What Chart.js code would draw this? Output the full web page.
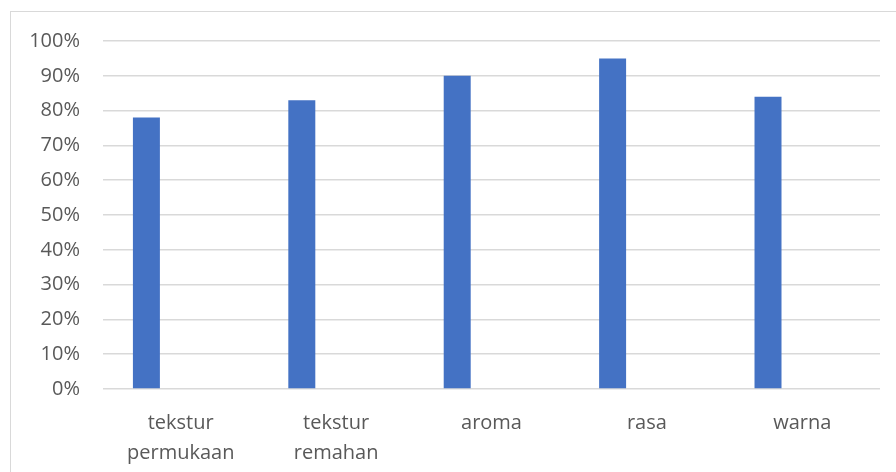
<!DOCTYPE html>
<html>
<head>
<meta charset="utf-8">
<script src="https://cdn.jsdelivr.net/npm/chart.js@4"></script>
<style>
  html, body { margin: 0; padding: 0; background: #fff; }
  #wrap { position: relative; width: 896px; height: 472px; overflow: hidden; }
  #frame { position: absolute; left: 10px; top: 11px; width: 900px; height: 470px; border: 1px solid #d9d9d9; box-sizing: border-box; }
  canvas { position: absolute; left: 0; top: 0; }
</style>
</head>
<body>
<div id="wrap">
  <div id="frame"></div>
  <canvas id="chart" width="896" height="472"></canvas>
</div>
<script>
// categories (multi-line labels)
const categories = [
  ['tekstur', 'permukaan'],
  ['tekstur', 'remahan'],
  'aroma',
  'rasa',
  'warna'
];
// percentage values, series 1 (series 2 and 3 are empty in the source sheet)
const series1 = [78, 83, 90, 95, 84];
const series2 = [null, null, null, null, null];
const series3 = [null, null, null, null, null];
const yTicks = { min: 0, max: 100, step: 10 };

const barColor = '#4472c4';
const textColor = '#595959';
const gridColor = '#d9d9d9';

const ctx = document.getElementById('chart');
new Chart(ctx, {
  type: 'bar',
  data: {
    labels: categories,
    datasets: [
      { label: 'Series1', data: series1, backgroundColor: barColor },
      { label: 'Series2', data: series2, backgroundColor: '#ed7d31' },
      { label: 'Series3', data: series3, backgroundColor: '#a5a5a5' }
    ]
  },
  options: {
    responsive: false,
    animation: false,
    categoryPercentage: 0.662,
    barPercentage: 0.787,
    layout: { padding: { left: 0, right: 16, top: 41, bottom: 0 } },
    plugins: {
      legend: { display: false },
      tooltip: { enabled: false }
    },
    scales: {
      x: {
        grid: { display: false, drawTicks: false },
        border: { display: false },
        ticks: {
          color: textColor,
          font: { family: 'Open Sans', size: 20, lineHeight: 1.5 },
          padding: 19,
          maxRotation: 0,
          autoSkip: false
        },
        afterFit(scale) { scale.height = 472 - 389; }
      },
      y: {
        min: yTicks.min,
        max: yTicks.max,
        grid: { color: gridColor, lineWidth: 1.5, drawTicks: false },
        border: { display: false },
        ticks: {
          stepSize: yTicks.step,
          color: textColor,
          font: { family: 'Open Sans', size: 20 },
          padding: 23,
          callback: v => v + '%'
        },
        afterFit(scale) { scale.width = 103; }
      }
    }
  }
});
</script>
</body>
</html>
